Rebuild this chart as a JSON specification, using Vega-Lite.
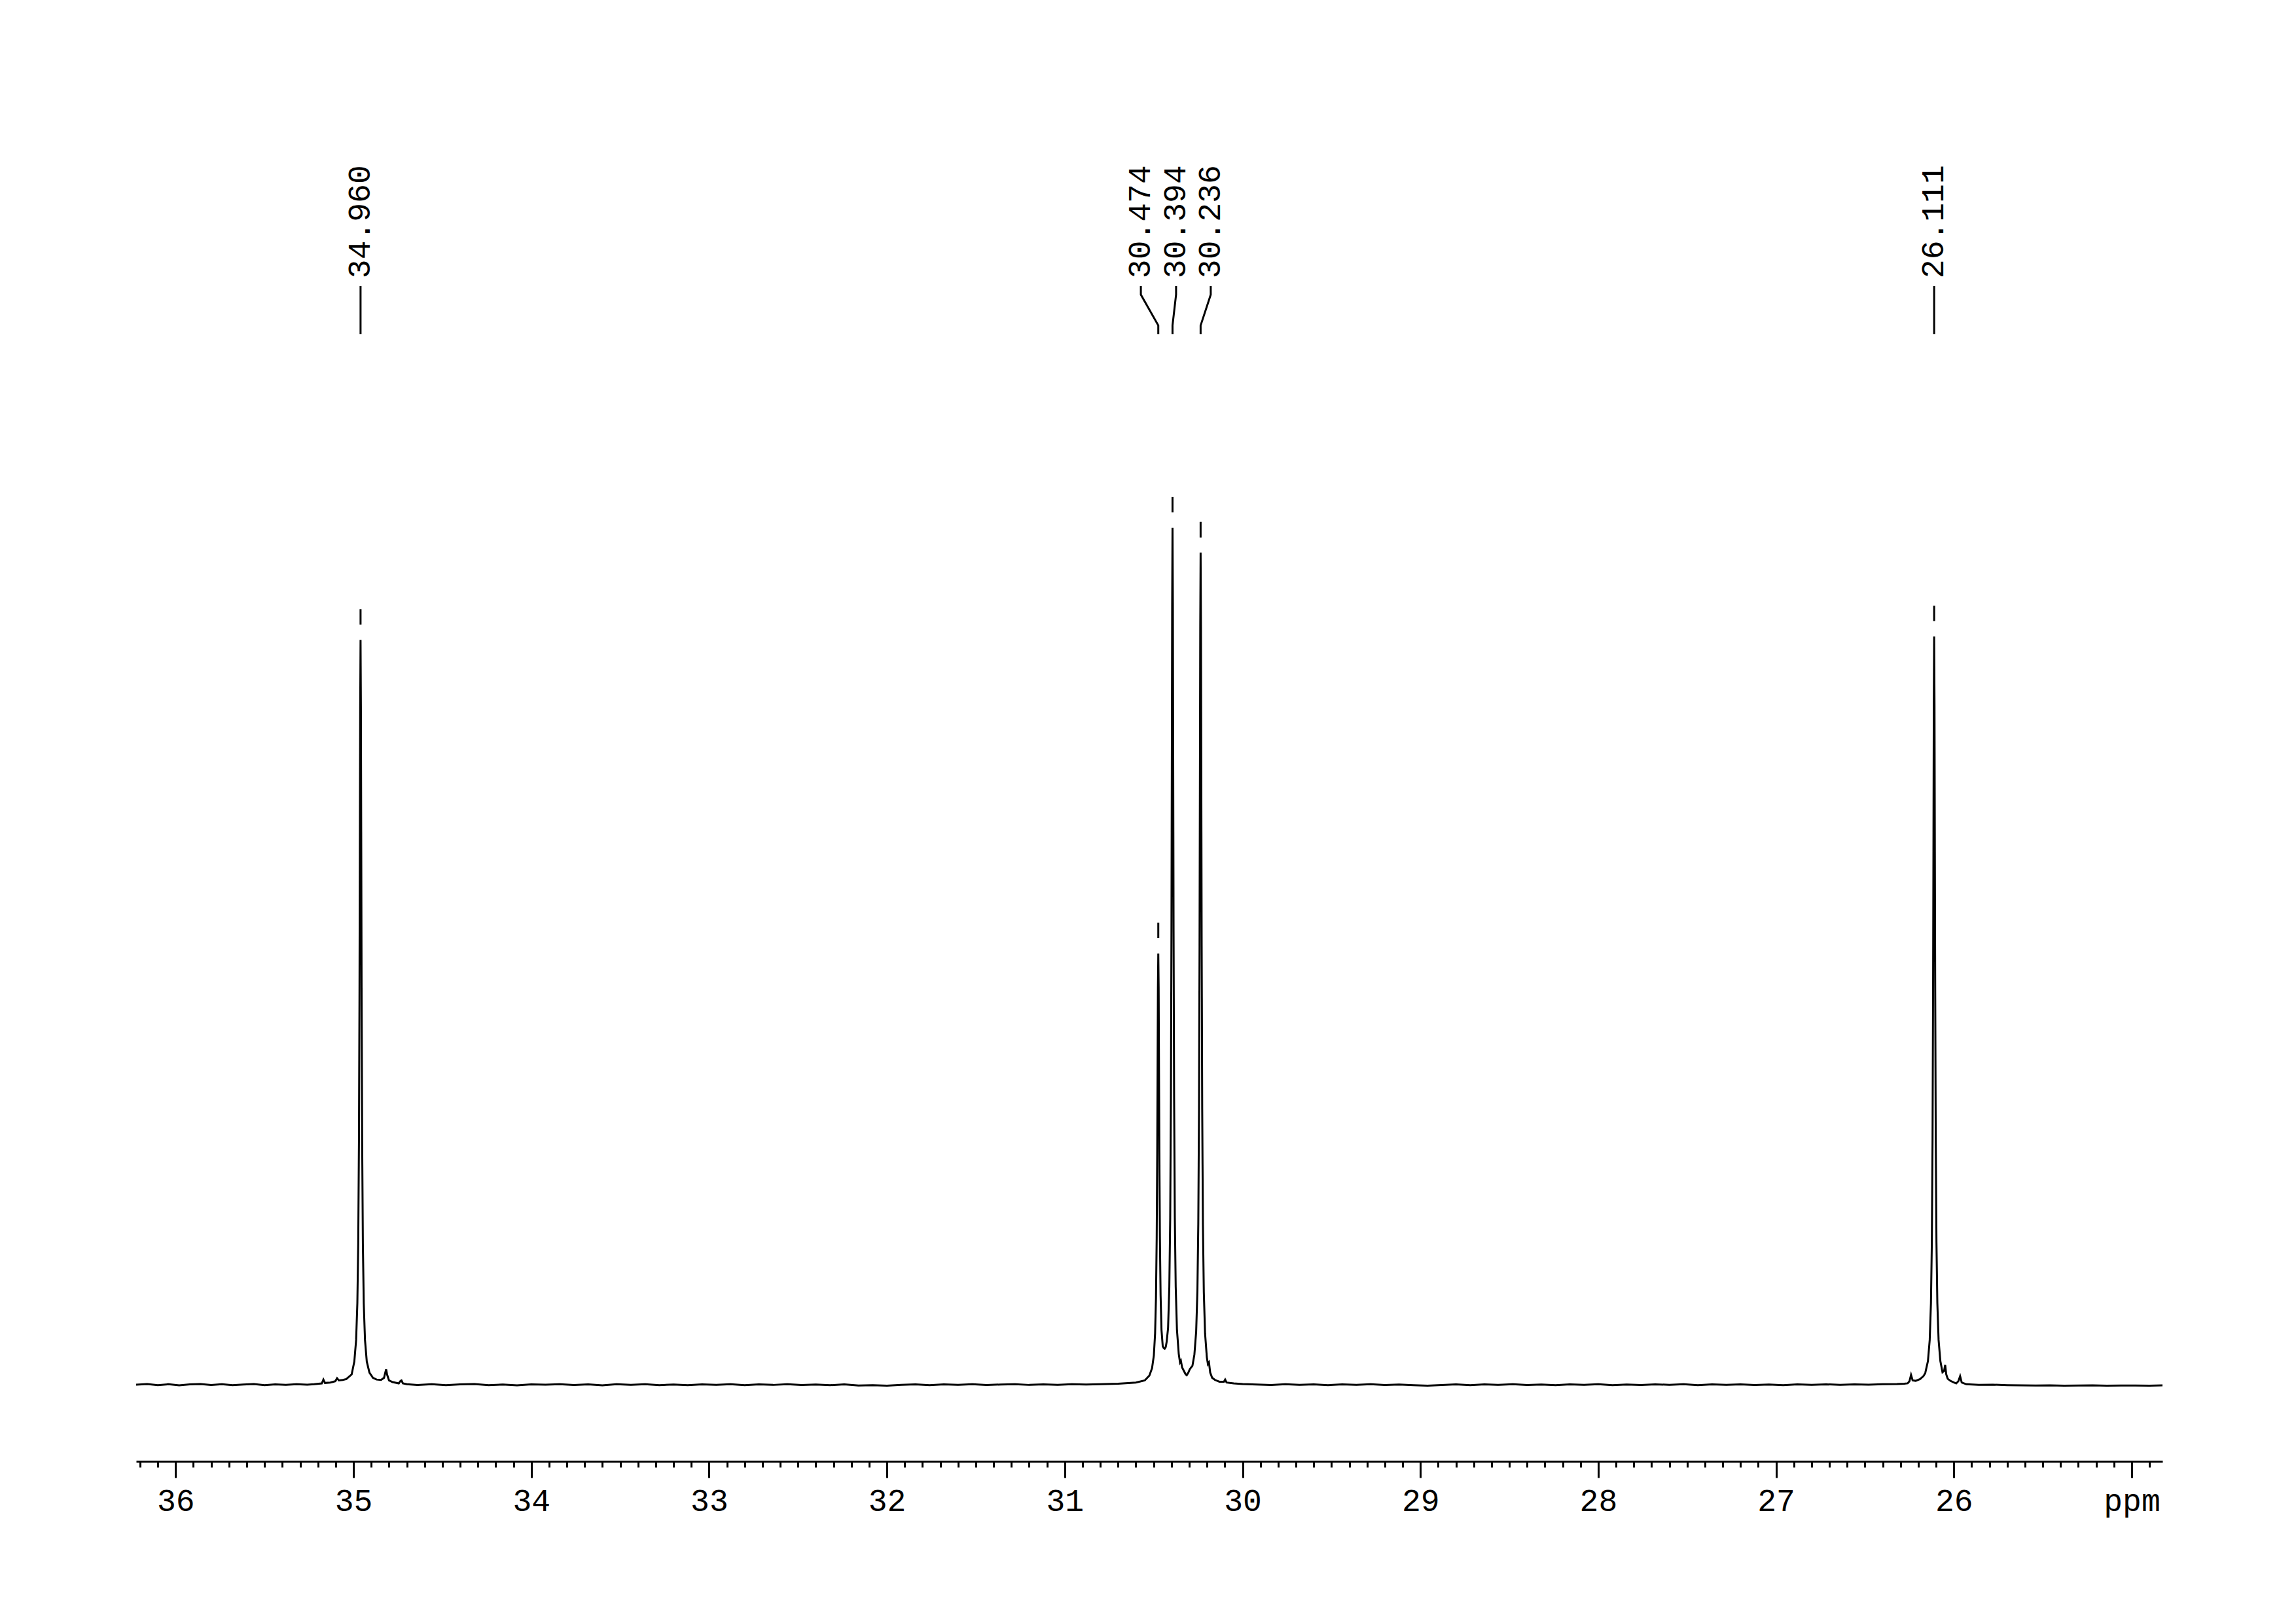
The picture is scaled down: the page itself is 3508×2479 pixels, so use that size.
{
  "$schema": "https://vega.github.io/schema/vega-lite/v6.json",
  "width": 3096,
  "height": 2032,
  "autosize": "none",
  "padding": {"left": 208, "top": 200, "right": 204, "bottom": 247},
  "background": "white",
  "config": {"view": {"stroke": null}},
  "datasets": {
    "spectrum": [
      {"ppm": 36.222, "i": 0.0}, {"ppm": 36.16, "i": 0.08}, {"ppm": 36.10, "i": -0.05}, {"ppm": 36.04, "i": 0.05},
      {"ppm": 35.98, "i": -0.08}, {"ppm": 35.92, "i": 0.03}, {"ppm": 35.86, "i": 0.08}, {"ppm": 35.80, "i": -0.04},
      {"ppm": 35.74, "i": 0.06}, {"ppm": 35.68, "i": -0.06}, {"ppm": 35.62, "i": 0.02}, {"ppm": 35.56, "i": 0.07},
      {"ppm": 35.50, "i": -0.05}, {"ppm": 35.44, "i": 0.04}, {"ppm": 35.38, "i": -0.02}, {"ppm": 35.32, "i": 0.06},
      {"ppm": 35.26, "i": 0.0}, {"ppm": 35.22, "i": 0.05}, {"ppm": 35.178, "i": 0.15}, {"ppm": 35.169, "i": 0.6},
      {"ppm": 35.160, "i": 0.2}, {"ppm": 35.130, "i": 0.25}, {"ppm": 35.102, "i": 0.4}, {"ppm": 35.092, "i": 0.75},
      {"ppm": 35.082, "i": 0.5}, {"ppm": 35.060, "i": 0.55}, {"ppm": 35.040, "i": 0.65}, {"ppm": 35.010, "i": 1.2},
      {"ppm": 34.995, "i": 2.7}, {"ppm": 34.985, "i": 5.2}, {"ppm": 34.978, "i": 9.5}, {"ppm": 34.973, "i": 16.5},
      {"ppm": 34.969, "i": 28.6}, {"ppm": 34.966, "i": 45.5}, {"ppm": 34.964, "i": 62}, {"ppm": 34.962, "i": 78.9},
      {"ppm": 34.960, "i": 86.9}, {"ppm": 34.958, "i": 78.9}, {"ppm": 34.956, "i": 62}, {"ppm": 34.954, "i": 45.5},
      {"ppm": 34.951, "i": 28.6}, {"ppm": 34.947, "i": 16.5}, {"ppm": 34.942, "i": 9.5}, {"ppm": 34.935, "i": 5.2},
      {"ppm": 34.925, "i": 2.7}, {"ppm": 34.910, "i": 1.4}, {"ppm": 34.890, "i": 0.8}, {"ppm": 34.870, "i": 0.6},
      {"ppm": 34.845, "i": 0.55}, {"ppm": 34.828, "i": 0.8}, {"ppm": 34.821, "i": 1.4}, {"ppm": 34.816, "i": 1.8},
      {"ppm": 34.811, "i": 1.2}, {"ppm": 34.800, "i": 0.5}, {"ppm": 34.780, "i": 0.3}, {"ppm": 34.745, "i": 0.15},
      {"ppm": 34.735, "i": 0.45}, {"ppm": 34.730, "i": 0.5}, {"ppm": 34.722, "i": 0.15}, {"ppm": 34.70, "i": 0.05},
      {"ppm": 34.64, "i": -0.04}, {"ppm": 34.56, "i": 0.05}, {"ppm": 34.48, "i": -0.06}, {"ppm": 34.40, "i": 0.03},
      {"ppm": 34.32, "i": 0.07}, {"ppm": 34.24, "i": -0.05}, {"ppm": 34.16, "i": 0.02}, {"ppm": 34.08, "i": -0.07},
      {"ppm": 34.00, "i": 0.04}, {"ppm": 33.92, "i": 0.0}, {"ppm": 33.84, "i": 0.06}, {"ppm": 33.76, "i": -0.04},
      {"ppm": 33.68, "i": 0.03}, {"ppm": 33.60, "i": -0.07}, {"ppm": 33.52, "i": 0.05}, {"ppm": 33.44, "i": -0.02},
      {"ppm": 33.36, "i": 0.06}, {"ppm": 33.28, "i": -0.05}, {"ppm": 33.20, "i": 0.02}, {"ppm": 33.12, "i": -0.06},
      {"ppm": 33.04, "i": 0.04}, {"ppm": 32.96, "i": -0.02}, {"ppm": 32.88, "i": 0.05}, {"ppm": 32.80, "i": -0.05},
      {"ppm": 32.72, "i": 0.03}, {"ppm": 32.64, "i": -0.03}, {"ppm": 32.56, "i": 0.06}, {"ppm": 32.48, "i": -0.04},
      {"ppm": 32.40, "i": 0.02}, {"ppm": 32.32, "i": -0.06}, {"ppm": 32.24, "i": 0.03}, {"ppm": 32.16, "i": -0.1},
      {"ppm": 32.08, "i": -0.05}, {"ppm": 32.00, "i": -0.12}, {"ppm": 31.92, "i": -0.02}, {"ppm": 31.84, "i": 0.04},
      {"ppm": 31.76, "i": -0.05}, {"ppm": 31.68, "i": 0.03}, {"ppm": 31.60, "i": -0.03}, {"ppm": 31.52, "i": 0.05},
      {"ppm": 31.44, "i": -0.04}, {"ppm": 31.36, "i": 0.02}, {"ppm": 31.28, "i": 0.06}, {"ppm": 31.20, "i": -0.03},
      {"ppm": 31.12, "i": 0.04}, {"ppm": 31.04, "i": -0.02}, {"ppm": 30.96, "i": 0.05}, {"ppm": 30.88, "i": 0.02},
      {"ppm": 30.80, "i": 0.05}, {"ppm": 30.70, "i": 0.12}, {"ppm": 30.60, "i": 0.25}, {"ppm": 30.55, "i": 0.5},
      {"ppm": 30.524, "i": 1.07}, {"ppm": 30.509, "i": 1.93}, {"ppm": 30.499, "i": 3.4}, {"ppm": 30.492, "i": 5.97},
      {"ppm": 30.487, "i": 10.1}, {"ppm": 30.483, "i": 17.1}, {"ppm": 30.480, "i": 27.0}, {"ppm": 30.478, "i": 36.5},
      {"ppm": 30.476, "i": 46.3}, {"ppm": 30.474, "i": 50.3}, {"ppm": 30.472, "i": 46.4}, {"ppm": 30.470, "i": 36.6},
      {"ppm": 30.468, "i": 27.1}, {"ppm": 30.465, "i": 17.3}, {"ppm": 30.461, "i": 10.4}, {"ppm": 30.456, "i": 6.4},
      {"ppm": 30.449, "i": 4.5}, {"ppm": 30.444, "i": 4.3}, {"ppm": 30.438, "i": 4.2}, {"ppm": 30.432, "i": 4.4},
      {"ppm": 30.427, "i": 5.0}, {"ppm": 30.419, "i": 6.6}, {"ppm": 30.412, "i": 11.4}, {"ppm": 30.407, "i": 19.4},
      {"ppm": 30.403, "i": 33.3}, {"ppm": 30.400, "i": 52.8}, {"ppm": 30.398, "i": 71.6}, {"ppm": 30.396, "i": 91.0},
      {"ppm": 30.394, "i": 100}, {"ppm": 30.392, "i": 91.2}, {"ppm": 30.390, "i": 71.8}, {"ppm": 30.388, "i": 52.9},
      {"ppm": 30.385, "i": 33.4}, {"ppm": 30.381, "i": 19.5}, {"ppm": 30.376, "i": 11.4}, {"ppm": 30.369, "i": 6.4},
      {"ppm": 30.359, "i": 3.6}, {"ppm": 30.352, "i": 2.6}, {"ppm": 30.347, "i": 2.8}, {"ppm": 30.340, "i": 2.0},
      {"ppm": 30.330, "i": 1.6}, {"ppm": 30.320, "i": 1.2}, {"ppm": 30.314, "i": 1.1}, {"ppm": 30.305, "i": 1.4},
      {"ppm": 30.297, "i": 1.8}, {"ppm": 30.290, "i": 2.0}, {"ppm": 30.282, "i": 2.2}, {"ppm": 30.271, "i": 3.5},
      {"ppm": 30.261, "i": 6.2}, {"ppm": 30.254, "i": 10.95}, {"ppm": 30.249, "i": 18.8}, {"ppm": 30.245, "i": 32.2},
      {"ppm": 30.242, "i": 51.2}, {"ppm": 30.240, "i": 69.5}, {"ppm": 30.238, "i": 88.5}, {"ppm": 30.236, "i": 97.1},
      {"ppm": 30.234, "i": 88.4}, {"ppm": 30.232, "i": 69.4}, {"ppm": 30.230, "i": 51.1}, {"ppm": 30.227, "i": 32.1},
      {"ppm": 30.223, "i": 18.7}, {"ppm": 30.218, "i": 10.8}, {"ppm": 30.211, "i": 6.0}, {"ppm": 30.201, "i": 3.2},
      {"ppm": 30.195, "i": 2.4}, {"ppm": 30.189, "i": 2.6}, {"ppm": 30.182, "i": 1.4}, {"ppm": 30.171, "i": 0.8},
      {"ppm": 30.155, "i": 0.55}, {"ppm": 30.130, "i": 0.35}, {"ppm": 30.105, "i": 0.35}, {"ppm": 30.098, "i": 0.6},
      {"ppm": 30.090, "i": 0.25}, {"ppm": 30.050, "i": 0.15}, {"ppm": 30.00, "i": 0.08},
      {"ppm": 29.92, "i": 0.02}, {"ppm": 29.84, "i": -0.04}, {"ppm": 29.76, "i": 0.05}, {"ppm": 29.68, "i": -0.03},
      {"ppm": 29.60, "i": 0.04}, {"ppm": 29.52, "i": -0.05}, {"ppm": 29.44, "i": 0.03}, {"ppm": 29.36, "i": -0.02},
      {"ppm": 29.28, "i": 0.05}, {"ppm": 29.20, "i": -0.04}, {"ppm": 29.12, "i": 0.02}, {"ppm": 29.04, "i": -0.06},
      {"ppm": 28.96, "i": -0.12}, {"ppm": 28.88, "i": -0.04}, {"ppm": 28.80, "i": 0.03}, {"ppm": 28.72, "i": -0.05},
      {"ppm": 28.64, "i": 0.04}, {"ppm": 28.56, "i": -0.03}, {"ppm": 28.48, "i": 0.05}, {"ppm": 28.40, "i": -0.04},
      {"ppm": 28.32, "i": 0.02}, {"ppm": 28.24, "i": -0.06}, {"ppm": 28.16, "i": 0.03}, {"ppm": 28.08, "i": -0.03},
      {"ppm": 28.00, "i": 0.05}, {"ppm": 27.92, "i": -0.05}, {"ppm": 27.84, "i": 0.02}, {"ppm": 27.76, "i": -0.04},
      {"ppm": 27.68, "i": 0.04}, {"ppm": 27.60, "i": -0.02}, {"ppm": 27.52, "i": 0.05}, {"ppm": 27.44, "i": -0.05},
      {"ppm": 27.36, "i": 0.03}, {"ppm": 27.28, "i": -0.03}, {"ppm": 27.20, "i": 0.04}, {"ppm": 27.12, "i": -0.04},
      {"ppm": 27.04, "i": 0.02}, {"ppm": 26.96, "i": -0.05}, {"ppm": 26.88, "i": 0.03}, {"ppm": 26.80, "i": -0.03},
      {"ppm": 26.72, "i": 0.04}, {"ppm": 26.64, "i": -0.02}, {"ppm": 26.56, "i": 0.03}, {"ppm": 26.48, "i": 0.0},
      {"ppm": 26.40, "i": 0.05}, {"ppm": 26.32, "i": 0.08}, {"ppm": 26.28, "i": 0.12}, {"ppm": 26.26, "i": 0.16},
      {"ppm": 26.250, "i": 0.4}, {"ppm": 26.241, "i": 1.15}, {"ppm": 26.232, "i": 0.5}, {"ppm": 26.215, "i": 0.45},
      {"ppm": 26.190, "i": 0.65}, {"ppm": 26.171, "i": 1.0}, {"ppm": 26.161, "i": 1.36}, {"ppm": 26.146, "i": 2.74},
      {"ppm": 26.136, "i": 5.2}, {"ppm": 26.129, "i": 9.5}, {"ppm": 26.124, "i": 16.6}, {"ppm": 26.120, "i": 28.7},
      {"ppm": 26.117, "i": 45.8}, {"ppm": 26.115, "i": 62.2}, {"ppm": 26.113, "i": 79.3}, {"ppm": 26.111, "i": 87.3},
      {"ppm": 26.109, "i": 79.3}, {"ppm": 26.107, "i": 62.2}, {"ppm": 26.105, "i": 45.8}, {"ppm": 26.102, "i": 28.7},
      {"ppm": 26.098, "i": 16.6}, {"ppm": 26.093, "i": 9.5}, {"ppm": 26.086, "i": 5.2}, {"ppm": 26.076, "i": 2.74},
      {"ppm": 26.064, "i": 1.45}, {"ppm": 26.055, "i": 1.6}, {"ppm": 26.049, "i": 2.3}, {"ppm": 26.043, "i": 1.2},
      {"ppm": 26.035, "i": 0.7}, {"ppm": 26.020, "i": 0.45}, {"ppm": 26.000, "i": 0.25}, {"ppm": 25.987, "i": 0.15},
      {"ppm": 25.975, "i": 0.4}, {"ppm": 25.965, "i": 1.0}, {"ppm": 25.956, "i": 0.25}, {"ppm": 25.930, "i": 0.05},
      {"ppm": 25.86, "i": -0.02}, {"ppm": 25.78, "i": 0.0}, {"ppm": 25.70, "i": -0.05}, {"ppm": 25.62, "i": -0.08},
      {"ppm": 25.54, "i": -0.1}, {"ppm": 25.46, "i": -0.07}, {"ppm": 25.38, "i": -0.12}, {"ppm": 25.30, "i": -0.1},
      {"ppm": 25.22, "i": -0.08}, {"ppm": 25.14, "i": -0.12}, {"ppm": 25.06, "i": -0.1}, {"ppm": 24.98, "i": -0.09},
      {"ppm": 24.90, "i": -0.12}, {"ppm": 24.827, "i": -0.08}
    ],
    "peaks": [
      {"shift": 34.960, "label": "34.960", "lo": 88.7, "hi": 90.5, "lx": 34.960},
      {"shift": 30.474, "label": "30.474", "lo": 52.1, "hi": 53.9, "lx": 30.572},
      {"shift": 30.394, "label": "30.394", "lo": 101.8, "hi": 103.6, "lx": 30.374},
      {"shift": 30.236, "label": "30.236", "lo": 98.85, "hi": 100.7, "lx": 30.179},
      {"shift": 26.111, "label": "26.111", "lo": 89.1, "hi": 90.9, "lx": 26.111}
    ],
    "connectors": [
      {"label": "34.960", "seq": 1, "ppm": 34.960, "i": 128.2},
      {"label": "34.960", "seq": 2, "ppm": 34.960, "i": 122.6},
      {"label": "30.474", "seq": 1, "ppm": 30.572, "i": 128.2},
      {"label": "30.474", "seq": 2, "ppm": 30.572, "i": 127.2},
      {"label": "30.474", "seq": 3, "ppm": 30.474, "i": 123.6},
      {"label": "30.474", "seq": 4, "ppm": 30.474, "i": 122.6},
      {"label": "30.394", "seq": 1, "ppm": 30.374, "i": 128.2},
      {"label": "30.394", "seq": 2, "ppm": 30.374, "i": 127.2},
      {"label": "30.394", "seq": 3, "ppm": 30.394, "i": 123.6},
      {"label": "30.394", "seq": 4, "ppm": 30.394, "i": 122.6},
      {"label": "30.236", "seq": 1, "ppm": 30.179, "i": 128.2},
      {"label": "30.236", "seq": 2, "ppm": 30.179, "i": 127.2},
      {"label": "30.236", "seq": 3, "ppm": 30.236, "i": 123.6},
      {"label": "30.236", "seq": 4, "ppm": 30.236, "i": 122.6},
      {"label": "26.111", "seq": 1, "ppm": 26.111, "i": 128.2},
      {"label": "26.111", "seq": 2, "ppm": 26.111, "i": 122.6}
    ]
  },
  "layer": [
    {
      "data": {"name": "spectrum"},
      "mark": {"type": "line", "color": "black", "strokeWidth": 3, "interpolate": "linear"},
      "encoding": {
        "x": {
          "field": "ppm", "type": "quantitative",
          "scale": {"domain": [24.827, 36.222], "reverse": true, "nice": false, "zero": false},
          "axis": {
            "title": null, "grid": false, "tickCount": 114,
            "domainColor": "black", "domainWidth": 3,
            "tickColor": "black", "tickWidth": 3,
            "tickSize": {"condition": {"test": "abs(datum.value - round(datum.value)) < 0.001", "value": 25}, "value": 9},
            "labelExpr": "abs(datum.value - round(datum.value)) < 0.001 ? (round(datum.value) == 25 ? 'ppm' : format(datum.value, 'd')) : ''",
            "labelFont": "Liberation Mono", "labelFontSize": 48, "labelColor": "black",
            "labelPadding": 12, "labelOverlap": false, "labelFlush": false, "labelBound": false
          }
        },
        "y": {
          "field": "i", "type": "quantitative",
          "scale": {"domain": [-8.94, 146.3], "nice": false, "zero": false},
          "axis": null
        }
      }
    },
    {
      "data": {"name": "peaks"},
      "mark": {"type": "rule", "color": "black", "strokeWidth": 3},
      "encoding": {
        "x": {"field": "shift", "type": "quantitative", "scale": {"domain": [24.827, 36.222], "reverse": true, "nice": false, "zero": false}},
        "y": {"field": "lo", "type": "quantitative", "scale": {"domain": [-8.94, 146.3], "nice": false, "zero": false}},
        "y2": {"field": "hi"}
      }
    },
    {
      "data": {"name": "connectors"},
      "mark": {"type": "line", "color": "black", "strokeWidth": 3},
      "encoding": {
        "x": {"field": "ppm", "type": "quantitative", "scale": {"domain": [24.827, 36.222], "reverse": true, "nice": false, "zero": false}},
        "y": {"field": "i", "type": "quantitative", "scale": {"domain": [-8.94, 146.3], "nice": false, "zero": false}},
        "detail": {"field": "label"},
        "order": {"field": "seq"}
      }
    },
    {
      "data": {"name": "peaks"},
      "mark": {"type": "text", "angle": 270, "align": "left", "baseline": "middle", "font": "Liberation Mono", "fontSize": 48, "color": "black"},
      "encoding": {
        "x": {"field": "lx", "type": "quantitative", "scale": {"domain": [24.827, 36.222], "reverse": true, "nice": false, "zero": false}},
        "y": {"datum": 129.1, "type": "quantitative", "scale": {"domain": [-8.94, 146.3], "nice": false, "zero": false}},
        "text": {"field": "label"}
      }
    }
  ]
}
